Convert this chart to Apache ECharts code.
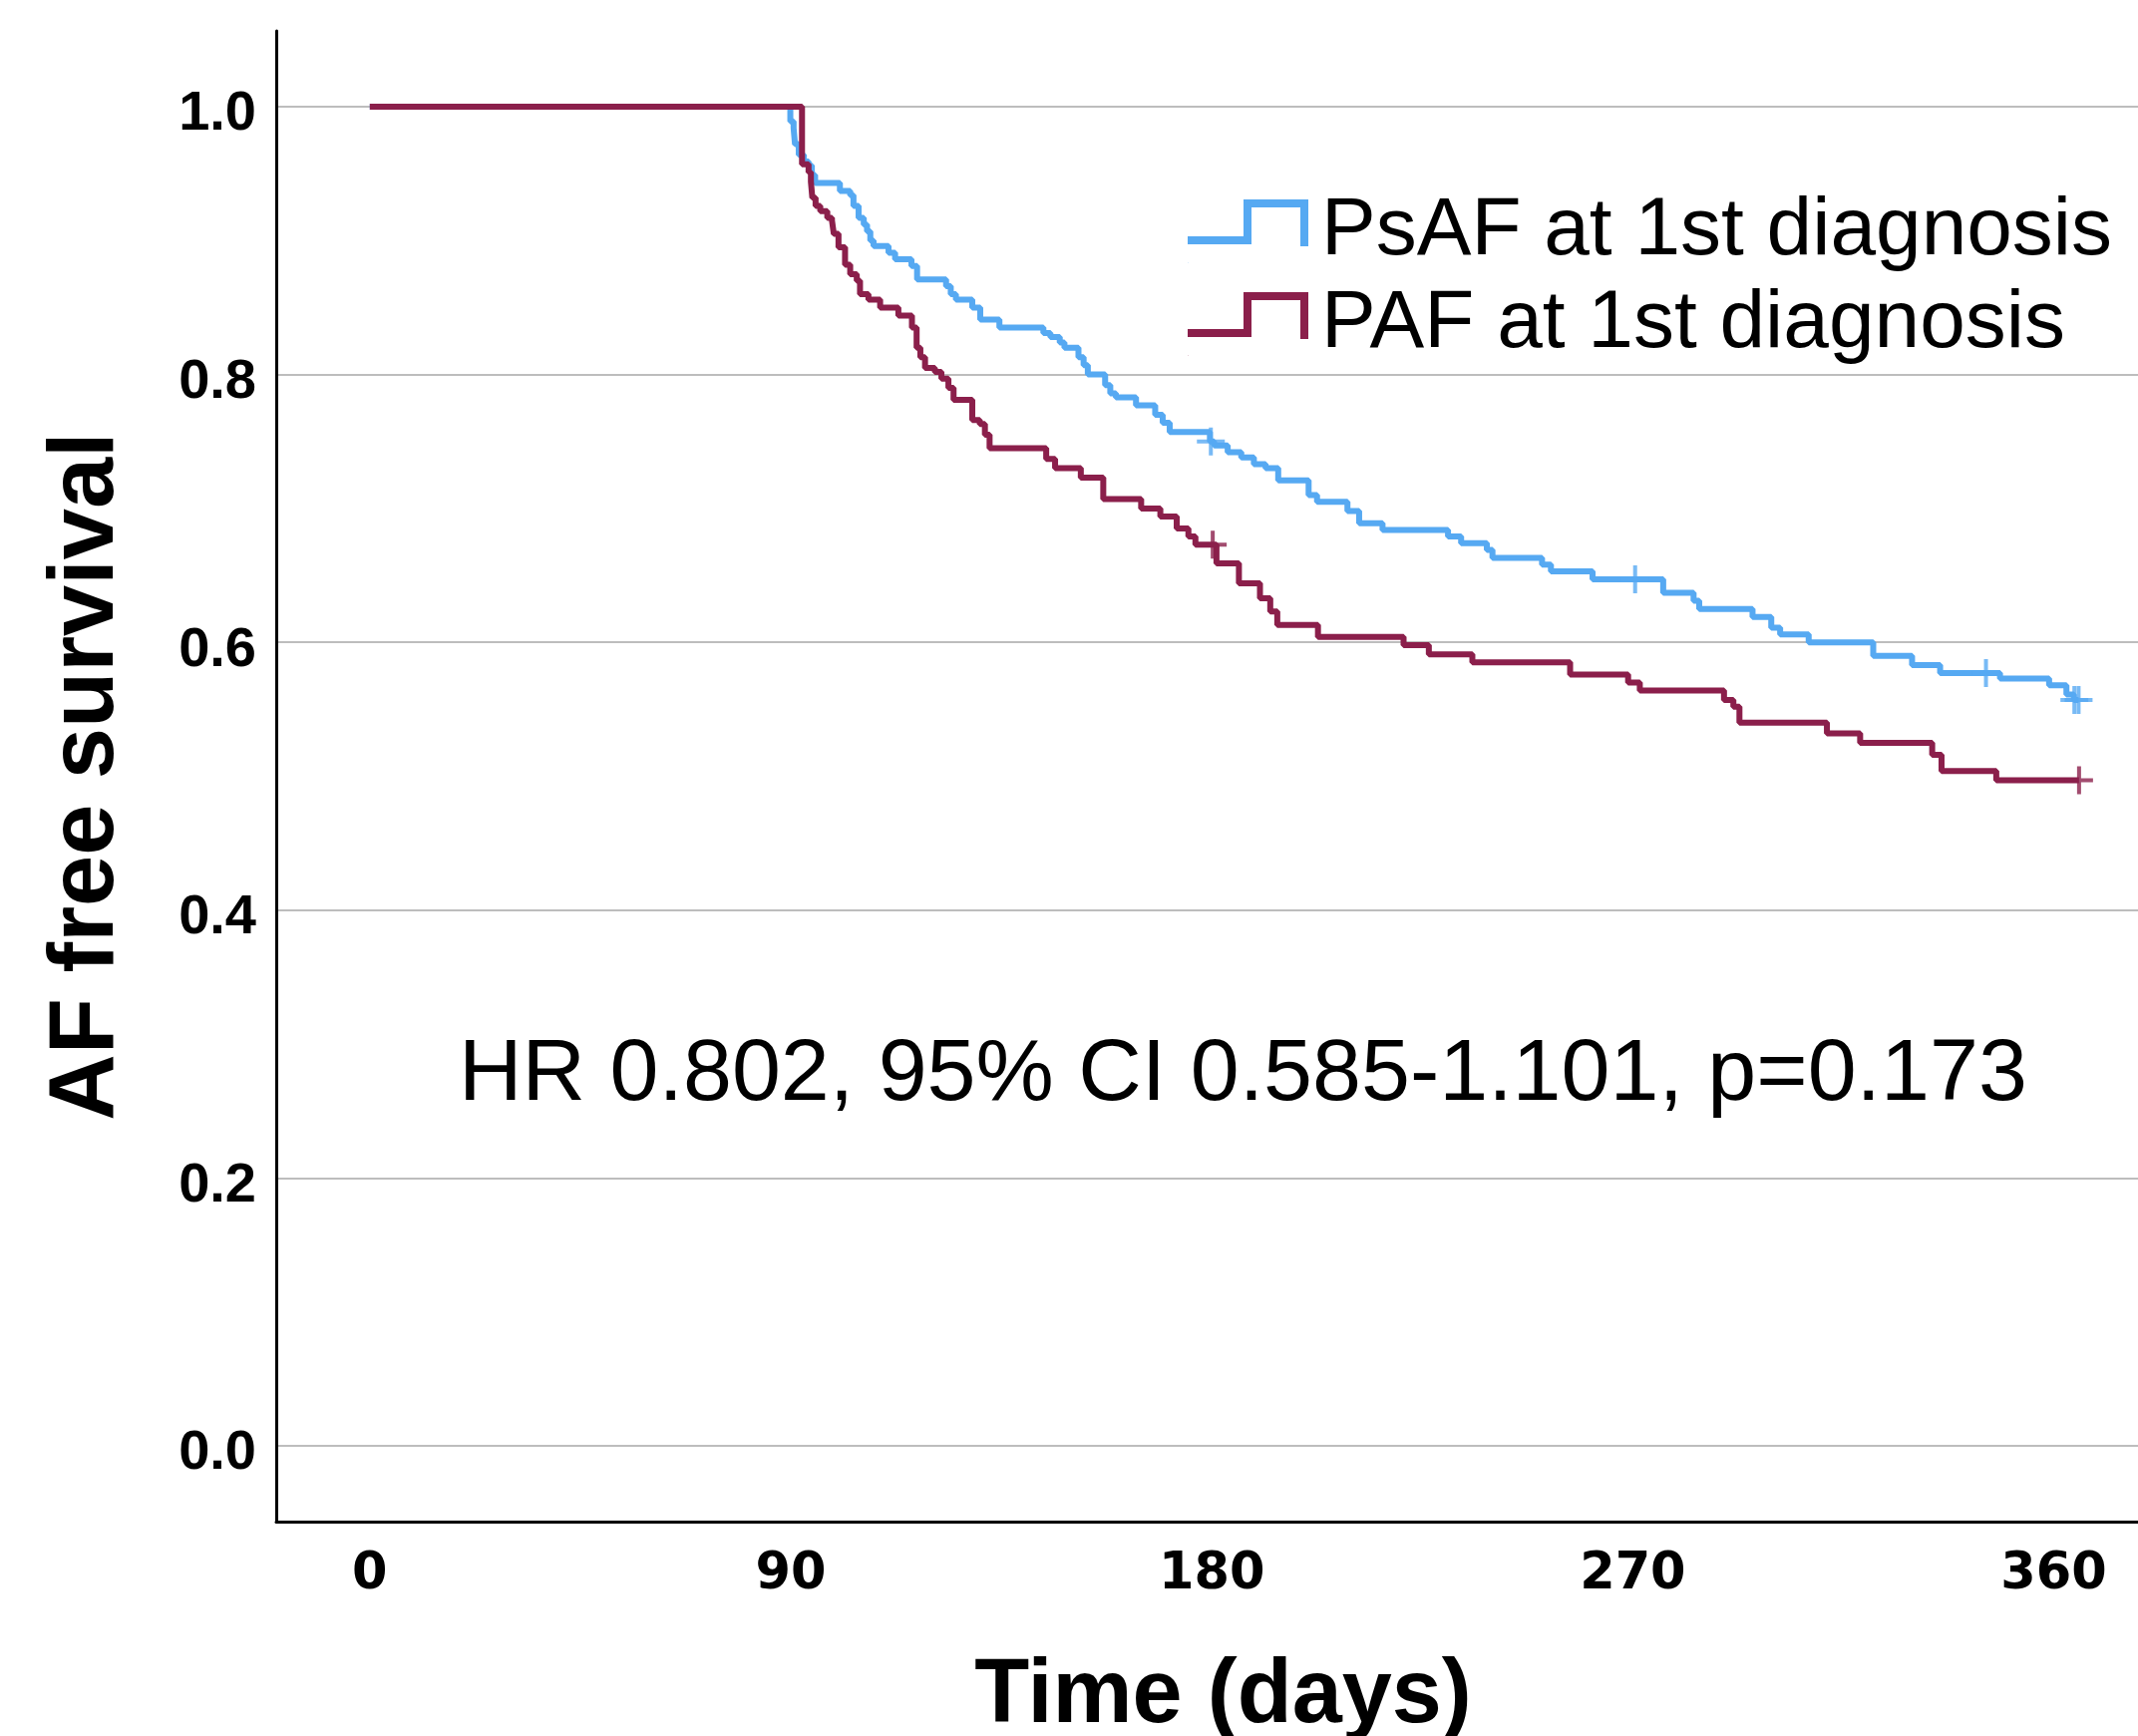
<!DOCTYPE html>
<html>
<head>
<meta charset="utf-8">
<style>html,body{margin:0;padding:0;background:#fff;}#chart{width:2144px;height:1741px;}</style>
<script src="https://cdn.jsdelivr.net/npm/echarts@6/dist/echarts.min.js"></script>
</head>
<body>
<div id="chart"></div>
<script>
const seriesNames = ['PsAF at 1st diagnosis', 'PAF at 1st diagnosis'];
const xTicks = [0, 90, 180, 270, 360];
const yTicks = [0, 0.2, 0.4, 0.6, 0.8, 1.0];

const psafDays = [0, 89.9, 90.6, 90.9, 91.7, 92.8, 93.8, 94.5, 95.2, 100.5, 102.7, 103.4, 104.5, 105.6, 106.3, 107.0, 107.7, 110.9, 112.3, 115.8, 117.0, 123.2, 124.2, 125.3, 128.8, 130.5, 134.6, 144.0, 145.5, 147.5, 148.5, 151.5, 152.6, 153.5, 157.2, 158.3, 159.5, 163.8, 167.9, 169.5, 171.0, 179.6, 180.5, 183.4, 186.3, 189.0, 191.5, 194.2, 200.7, 202.5, 209.0, 211.5, 216.5, 230.5, 233.3, 238.8, 240.0, 250.6, 252.5, 261.4, 276.5, 283.0, 284.2, 295.6, 299.6, 301.5, 307.6, 321.4, 329.7, 335.7, 348.5, 359.0, 362.7, 364.3, 365.3];
const psafSurv = [1.0, 0.989, 0.984, 0.972, 0.964, 0.959, 0.956, 0.949, 0.943, 0.937, 0.934, 0.926, 0.917, 0.912, 0.907, 0.900, 0.896, 0.891, 0.886, 0.881, 0.871, 0.866, 0.860, 0.856, 0.850, 0.841, 0.835, 0.831, 0.828, 0.824, 0.820, 0.813, 0.807, 0.800, 0.792, 0.786, 0.783, 0.777, 0.770, 0.764, 0.757, 0.750, 0.747, 0.742, 0.738, 0.733, 0.730, 0.721, 0.710, 0.705, 0.698, 0.689, 0.684, 0.679, 0.674, 0.669, 0.663, 0.658, 0.653, 0.647, 0.637, 0.631, 0.625, 0.619, 0.611, 0.606, 0.600, 0.590, 0.583, 0.577, 0.573, 0.568, 0.561, 0.557, 0.557];
const psafCensorDays = [179.8, 270.5, 345.5, 364.4, 365.3];
const psafCensorSurv = [0.750, 0.647, 0.577, 0.557, 0.557];

const pafDays = [0, 92.4, 93.8, 94.3, 94.6, 95.3, 96.3, 97.8, 98.8, 99.2, 100.2, 101.6, 102.7, 104.1, 104.8, 106.6, 109.1, 113.0, 115.9, 116.9, 117.7, 118.7, 120.8, 122.2, 123.7, 124.8, 128.8, 130.4, 131.5, 132.5, 144.6, 146.5, 152.0, 156.8, 164.9, 169.0, 172.5, 175.0, 176.5, 181.0, 185.8, 190.3, 192.5, 194.0, 202.7, 221.0, 226.4, 235.7, 256.6, 269.0, 271.5, 289.5, 291.5, 292.8, 311.5, 318.6, 334.0, 336.0, 347.7, 365.4];
const pafSurv = [1.0, 0.957, 0.951, 0.944, 0.932, 0.926, 0.922, 0.917, 0.915, 0.905, 0.895, 0.882, 0.875, 0.870, 0.860, 0.856, 0.850, 0.844, 0.835, 0.820, 0.813, 0.805, 0.802, 0.797, 0.790, 0.781, 0.766, 0.763, 0.755, 0.745, 0.737, 0.730, 0.723, 0.707, 0.700, 0.694, 0.685, 0.679, 0.673, 0.659, 0.644, 0.633, 0.623, 0.613, 0.604, 0.598, 0.591, 0.585, 0.576, 0.570, 0.564, 0.557, 0.552, 0.540, 0.532, 0.525, 0.516, 0.504, 0.497, 0.497];
const pafCensorDays = [180.2, 365.4];
const pafCensorSurv = [0.673, 0.497];

const annotation = 'HR 0.802, 95% CI 0.585-1.101, p=0.173';

const BLUE = '#56A9F2';
const RED = '#8B1F4B';
const zip = (a, b) => a.map((v, i) => [v, b[i]]);
const plusPath = 'path://M12,0 L16,0 L16,12 L28,12 L28,16 L16,16 L16,28 L12,28 L12,16 L0,16 L0,12 L12,12 Z';
// step-shaped legend glyph; the tiny square at the bottom only pads the icon box
const stepIcon = 'path://M0,37 L56,37 L56,0 L121,0 L121,47 L113,47 L113,8 L64,8 L64,45 L0,45 Z M0,63.6 L0.4,63.6 L0.4,64 L0,64 Z';

const chart = echarts.init(document.getElementById('chart'), null, {renderer: 'canvas'});
chart.setOption({
  animation: false,
  backgroundColor: '#fff',
  grid: {left: 277, right: 0, top: 31, bottom: 215, containLabel: false, outerBoundsMode: 'none'},
  legend: {
    data: seriesNames,
    orient: 'vertical',
    left: 1191, top: 191,
    padding: 0,
    itemWidth: 121, itemHeight: 64, itemGap: 11,
    icon: stepIcon,
    itemStyle: {borderWidth: 0},
    textStyle: {fontFamily: 'Liberation Sans', fontSize: 82, color: '#000', lineHeight: 52, padding: [0, 0, 0, 8]},
    selectedMode: false
  },
  xAxis: {
    type: 'value', min: -20, max: 378,
    name: 'Time (days)', nameLocation: 'middle', nameGap: 131,
    nameTextStyle: {fontFamily: 'Liberation Sans', fontWeight: 'bold', fontSize: 90, color: '#000', padding: [0, 0, 0, 32]},
    axisLine: {show: true, onZero: false, lineStyle: {color: '#000', width: 3}},
    axisTick: {show: false, customValues: xTicks},
    axisLabel: {customValues: xTicks, margin: 28, fontFamily: 'DejaVu Sans', fontWeight: 'bold', fontSize: 51, color: '#000'},
    splitLine: {show: false}
  },
  yAxis: {
    type: 'value', min: -0.0566, max: 1.0566,
    name: 'AF free survival', nameLocation: 'middle', nameGap: 143,
    nameTextStyle: {fontFamily: 'Liberation Sans', fontWeight: 'bold', fontSize: 92, color: '#000'},
    axisLine: {show: true, onZero: false, lineStyle: {color: '#000', width: 3}},
    axisTick: {show: false, customValues: yTicks},
    axisLabel: {customValues: yTicks, margin: 20, fontFamily: 'Liberation Sans', fontWeight: 'bold', fontSize: 56, color: '#000',
      verticalAlign: 'top', lineHeight: 16, formatter: v => v.toFixed(1)},
    splitLine: {show: true, lineStyle: {color: '#bdbdbd', width: 2}}
  },
  graphic: [{
    type: 'text', left: 460, top: 1035, silent: true,
    style: {text: annotation, fontFamily: 'Liberation Sans', fontSize: 88, fill: '#000'}
  }],
  series: [
    {name: seriesNames[0], type: 'line', step: 'end', showSymbol: false, data: zip(psafDays, psafSurv),
      itemStyle: {color: BLUE}, lineStyle: {color: BLUE, width: 6}, z: 3},
    {name: seriesNames[1], type: 'line', step: 'end', showSymbol: false, data: zip(pafDays, pafSurv),
      itemStyle: {color: RED}, lineStyle: {color: RED, width: 6}, z: 4},
    {name: 'PsAF censored', type: 'scatter', symbol: plusPath, symbolSize: 28, data: zip(psafCensorDays, psafCensorSurv),
      itemStyle: {color: BLUE}, z: 5, silent: true},
    {name: 'PAF censored', type: 'scatter', symbol: plusPath, symbolSize: 28, data: zip(pafCensorDays, pafCensorSurv),
      itemStyle: {color: RED}, z: 6, silent: true}
  ]
});
</script>
</body>
</html>
